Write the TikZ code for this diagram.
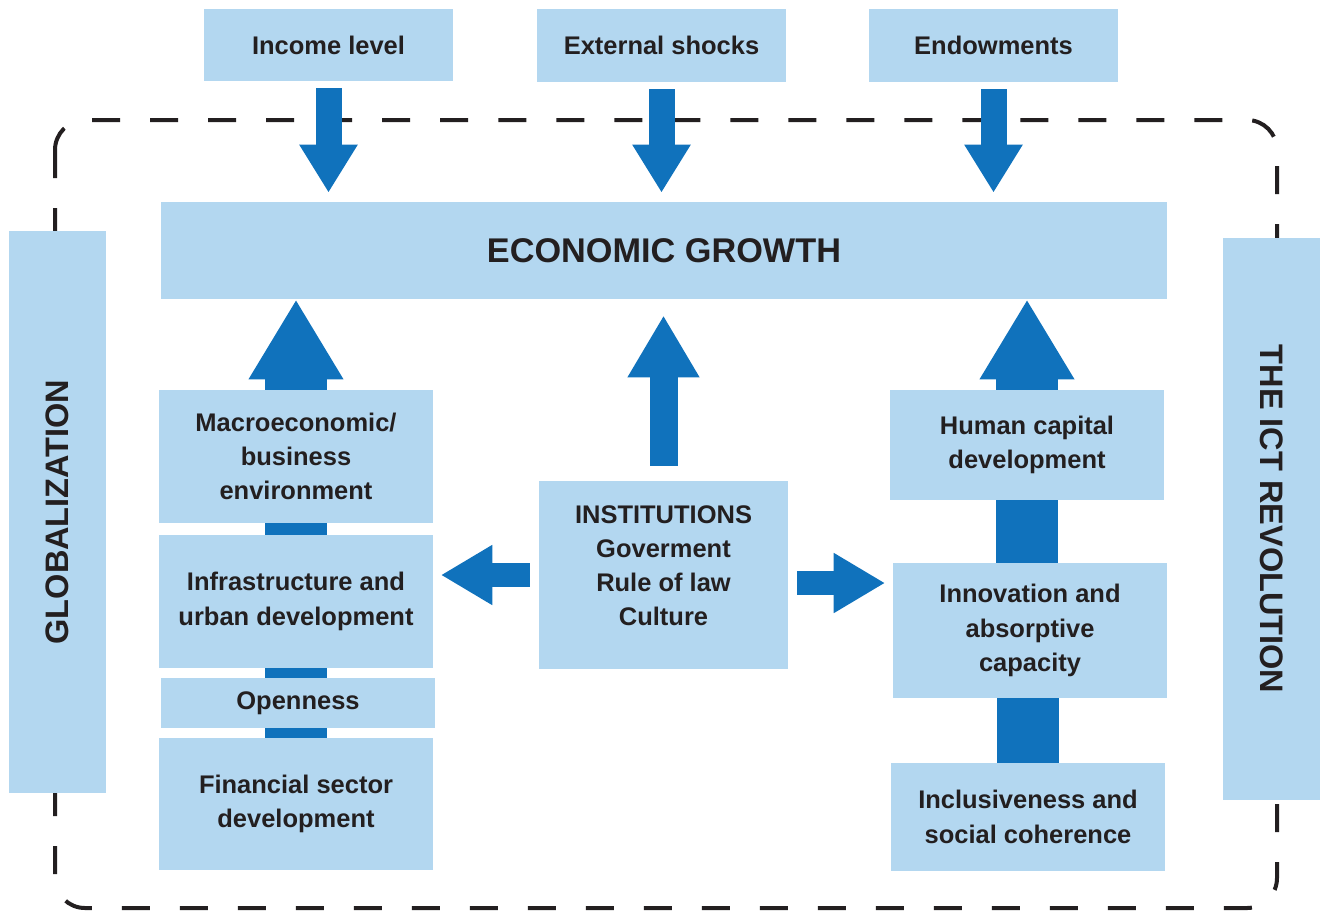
\documentclass[tikz,border=0pt]{standalone}
\usepackage{fontspec}
\setmainfont{Liberation Sans}
\usetikzlibrary{arrows.meta}
\definecolor{boxblue}{HTML}{B3D7F0}
\definecolor{arrowblue}{HTML}{1072BC}
\definecolor{inkblack}{HTML}{231F20}
\begin{document}
\begin{tikzpicture}[
    box/.style={fill=boxblue, text=inkblack, align=center, inner sep=0pt,
        font=\fontsize{14.5}{19.5}\selectfont\bfseries},
    sidebox/.style={box, minimum width=11.24cm, minimum height=1.94cm,
        font=\fontsize{18.5}{22}\selectfont\bfseries},
    bar/.style={arrowblue, line width=1.24cm},
    downarrow/.style={arrowblue, line width=0.52cm,
        -{Triangle[width=1.1cm,length=0.96cm]}, shorten <=0.14cm, shorten >=0.18cm},
    bigup/.style={arrowblue, line width=1.24cm, -{Triangle[width=1.78cm,length=1.6cm]}},
    midup/.style={arrowblue, line width=0.56cm,
        -{Triangle[width=1.35cm,length=1.24cm]}, shorten <=0.3cm, shorten >=0.32cm},
    sidearrow/.style={arrowblue, line width=0.47cm,
        -{Triangle[width=1.13cm,length=1.03cm]}, shorten <=0.18cm, shorten >=0.15cm}
]
\useasboundingbox (0,0) rectangle (26.42,-18.26);
\draw[inkblack, line width=0.08cm, dash pattern=on 0.56cm off 0.6cm, rounded corners=0.6cm]
    (1.1,-2.4) rectangle (25.54,-18.16);

\node[box, minimum width=4.98cm, minimum height=1.44cm] (income) at (6.57,-0.9) {Income level};
\node[box, minimum width=4.98cm, minimum height=1.46cm] (shocks) at (13.23,-0.91) {External shocks};
\node[box, minimum width=4.98cm, minimum height=1.46cm] (endow) at (19.87,-0.91) {Endowments};
\node[box, minimum width=20.12cm, minimum height=1.94cm,
    font=\fontsize{19.5}{22}\selectfont\bfseries] (growth) at (13.28,-5.01) {ECONOMIC GROWTH};

\node[sidebox, rotate=90] (glob) at (1.15,-10.24) {GLOBALIZATION};
\node[sidebox, rotate=-90] (ict) at (25.43,-10.38) {THE ICT REVOLUTION};

\node[box, minimum width=5.48cm, minimum height=2.66cm] (macro) at (5.92,-9.13) {Macroeconomic/\\business\\environment};
\node[box, minimum width=5.48cm, minimum height=2.66cm] (infra) at (5.92,-12.03) {Infrastructure and\\urban development};
\node[box, minimum width=5.48cm, minimum height=1.0cm] (open) at (5.96,-14.06) {Openness};
\node[box, minimum width=5.48cm, minimum height=2.64cm] (fin) at (5.92,-16.08) {Financial sector\\development};

\node[box, minimum width=4.98cm, minimum height=3.76cm, text depth=0.38cm] (inst) at (13.27,-11.5) {INSTITUTIONS\\Goverment\\Rule of law\\Culture};

\node[box, minimum width=5.48cm, minimum height=2.2cm] (human) at (20.54,-8.9) {Human capital\\development};
\node[box, minimum width=5.48cm, minimum height=2.7cm] (innov) at (20.6,-12.61) {Innovation and\\absorptive\\capacity};
\node[box, minimum width=5.48cm, minimum height=2.16cm] (incl) at (20.56,-16.34) {Inclusiveness and\\social coherence};

\foreach \src in {income,shocks,endow}
    \draw[downarrow] (\src.south) -- (\src.south |- growth.north);

\draw[bar] (macro.south) -- (macro.south |- infra.north);
\draw[bar] (infra.south) -- (infra.south |- open.north);
\draw[bar] (fin.north) -- (fin.north |- open.south);
\draw[bar] (human.south) -- (human.south |- innov.north);
\draw[bar] (incl.north) -- (incl.north |- innov.south);

\draw[bigup] (macro.north) -- (macro.north |- growth.south);
\draw[bigup] (human.north) -- (human.north |- growth.south);
\draw[midup] (inst.north) -- (inst.north |- growth.south);

\coordinate (rstart) at ([yshift=-0.16cm]inst.east);
\draw[sidearrow] (inst.west) -- (infra.east |- inst.west);
\draw[sidearrow] (rstart) -- (rstart -| innov.west);
\end{tikzpicture}
\end{document}
